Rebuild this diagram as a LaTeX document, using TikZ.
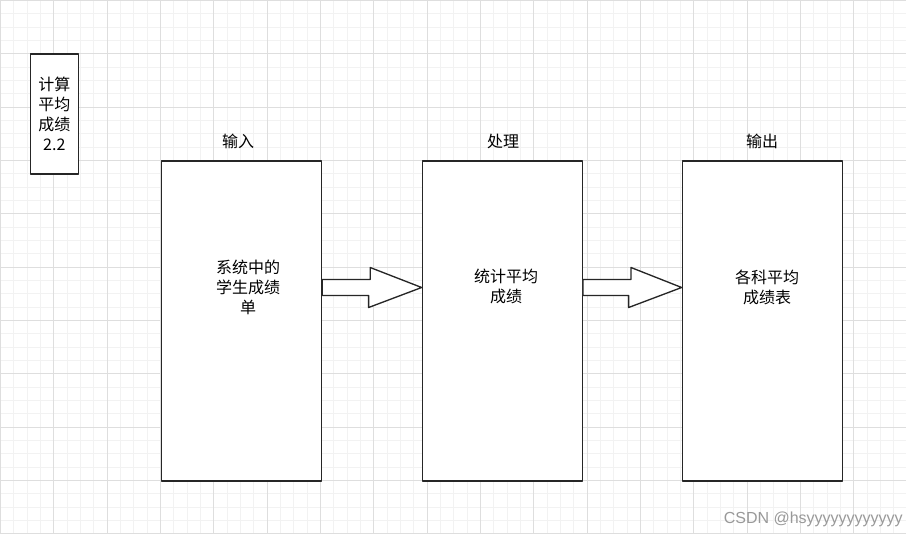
\documentclass[tikz,border=0pt]{standalone}
\usepackage{fontspec}
\setmainfont{Noto Sans CJK SC}
\newfontfamily\wmfont{Liberation Sans}
\usetikzlibrary{calc}

\begin{document}
\begin{tikzpicture}[x=0.75pt, y=-0.75pt, line cap=round, line join=round,
    every node/.style={font=\fontsize{12}{15}\selectfont},
    minorline/.style={draw=black!5, line width=0.75pt},
    majorline/.style={draw=black!13, line width=0.8pt},
    bigbox/.style={draw=black!85, line width=1pt, fill=white, minimum width=120pt, minimum height=240pt},
    tagbox/.style={draw=black!85, line width=1pt, fill=white, minimum width=36pt, minimum height=90pt, inner sep=0pt, align=center},
    boxtext/.style={align=center, inner sep=0pt},
    blockarr/.style={draw=black!85, line width=1pt, fill=white}]

  % canvas and grid
  \useasboundingbox (0,0) rectangle (906,534);
  \fill[white] (0,0) rectangle (906,534);
  \foreach \i in {0,...,68}
    \draw[minorline] (\i*13.333+0.5,0) -- (\i*13.333+0.5,534);
  \foreach \j in {0,...,40}
    \draw[minorline] (0,\j*13.333+0.5) -- (906,\j*13.333+0.5);
  \foreach \i in {0,...,16}
    \draw[majorline] (\i*53.333+0.5,0) -- (\i*53.333+0.5,534);
  \foreach \j in {0,...,10}
    \draw[majorline] (0,\j*53.333+0.5) -- (906,\j*53.333+0.5);

  % title box
  \node[tagbox] (tag) at (54.3,114) {计算\\平均\\成绩\\2.2};

  % the three stages
  \node[bigbox] (in)   at (241.5,321) {};
  \node[bigbox] (proc) at (502.3,321) {};
  \node[bigbox] (out)  at (762.3,321) {};

  \node (lblIn)   at (238,141.5) {输入};
  \node (lblProc) at (503,141.5) {处理};
  \node (lblOut)  at (762,141.5) {输出};

  \node[boxtext] (inTxt)   at (248,287)   {系统中的\\学生成绩\\单};
  \node[boxtext] (procTxt) at (506,286)   {统计平均\\成绩};
  \node[boxtext] (outTxt)  at (767,287)   {各科平均\\成绩表};

  % block arrows
  \draw[blockarr] ($(in.east)+(0,-41.5)$) -- ++(48,0) -- ++(0,-12)
    -- ($(proc.west)+(0,-33.5)$) -- ++(-53,20) -- ++(0,-12)
    -- ($(in.east)+(0,-25.5)$) -- cycle;
  \draw[blockarr] ($(proc.east)+(0,-41.5)$) -- ++(48,0) -- ++(0,-12)
    -- ($(out.west)+(0,-33.5)$) -- ++(-53,20) -- ++(0,-12)
    -- ($(proc.east)+(0,-25.5)$) -- cycle;

  % watermark
  \node[anchor=east, inner sep=0pt, text=black!40, font=\wmfont\fontsize{12}{14}\selectfont] (mark) at (903,519) {CSDN @hsyyyyyyyyyyyy};

\end{tikzpicture}
\end{document}
